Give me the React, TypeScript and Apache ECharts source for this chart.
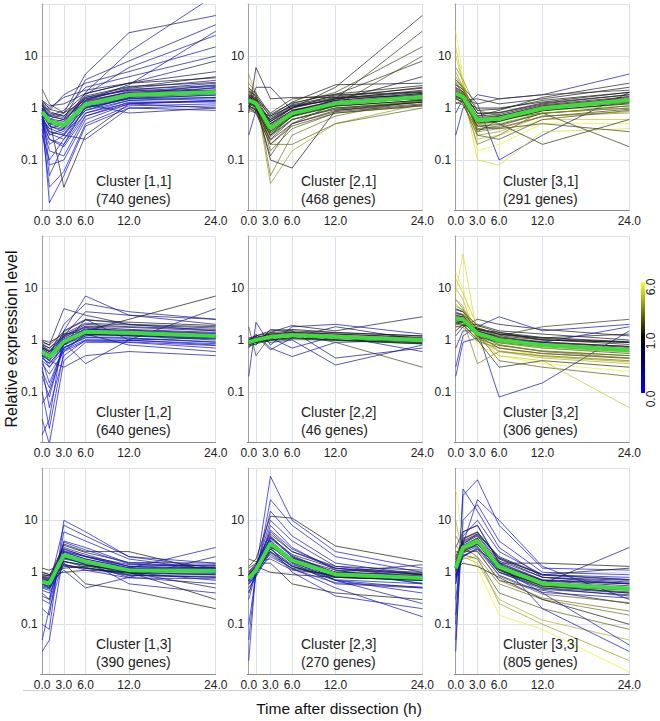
import React, { useEffect, useRef } from 'react';
import * as echarts from 'echarts';

// ---- data ----
const hours = [0, 1, 3, 6, 12, 24];
const xTickValues = [0, 3, 6, 12, 24];
const gridHours = [1, 3, 6, 12, 24];

const clusterNames = ['Cluster [1,1]', 'Cluster [2,1]', 'Cluster [3,1]', 'Cluster [1,2]', 'Cluster [2,2]', 'Cluster [3,2]', 'Cluster [1,3]', 'Cluster [2,3]', 'Cluster [3,3]'];
const geneCounts = [740, 468, 291, 640, 46, 306, 390, 270, 805];

const colorBarLabels = ['6.0', '1.0', '0.0'];

// Cluster [1,1]
const mean11 = [0.85, 0.56, 0.47, 1.18, 1.78, 2.03];
const lines11 = [
  [0.9, 0.5, 0.4, 1.1, 1.7, 1.9], [0.8, 0.6, 0.5, 1.3, 1.9, 2.2], [1.0, 0.45, 0.35, 1.0, 1.5, 1.6],
  [0.7, 0.35, 0.3, 0.9, 1.6, 2.5], [1.1, 0.7, 0.6, 1.5, 2.2, 3.0], [0.6, 0.25, 0.2, 0.8, 1.4, 1.5],
  [1.2, 0.8, 0.7, 1.6, 2.5, 4.0], [0.5, 0.15, 0.12, 0.7, 1.3, 1.3], [0.9, 0.08, 0.1, 0.6, 1.2, 1.4],
  [0.4, 0.03, 0.06, 0.5, 1.1, 1.2], [0.7, 0.015, 0.05, 0.45, 1.0, 1.1], [1.0, 0.6, 0.03, 0.3, 1.2, 1.0],
  [1.3, 1.0, 1.6, 2.2, 3.0, 8.0], [1.1, 0.9, 1.8, 3.0, 5.0, 15], [0.8, 0.5, 0.6, 3.5, 8.0, 40],
  [0.6, 0.4, 0.5, 2.0, 12, 150], [0.9, 0.6, 0.8, 4.5, 28, 60], [0.7, 0.3, 0.4, 1.8, 6.0, 25],
  [1.0, 0.7, 0.9, 2.5, 4.0, 10], [2.3, 1.2, 0.8, 1.4, 2.0, 2.2], [0.5, 0.2, 0.3, 0.25, 1.0, 0.9],
  [0.8, 0.55, 0.45, 1.2, 0.8, 1.0], [0.6, 0.05, 0.2, 1.1, 1.8, 2.8], [1.4, 1.1, 1.2, 1.9, 3.0, 5.0],
  [0.3, 0.1, 0.25, 1.0, 1.5, 1.8], [1.0, 0.5, 0.5, 1.4, 2.8, 30],
  [1.1, 0.75, 0.65, 1.5, 2.3, 2.7], [0.65, 0.4, 0.32, 0.9, 1.4, 1.6], [1.25, 0.85, 0.7, 1.7, 2.6, 3.1],
  [0.55, 0.32, 0.25, 0.8, 1.25, 1.4], [0.95, 0.7, 0.6, 1.35, 2.0, 2.4], [0.75, 0.45, 0.38, 1.0, 1.55, 1.75],
  [1.4, 0.95, 0.8, 1.9, 3.0, 3.8], [0.5, 0.25, 0.18, 0.7, 1.2, 1.35], [1.0, 0.6, 0.42, 1.4, 2.4, 3.4],
  [0.7, 0.5, 0.5, 1.05, 1.6, 1.9], [0.6, 0.35, 0.3, 1.25, 2.1, 2.6], [1.15, 0.62, 0.55, 1.6, 2.2, 2.2],
];
const tones11 = [0.4, 0.5, 0.3, 0.3, 0.6, 0.2, 0.7, 0.2, 0.1, 0.1, 0.05, 1.1, 0.5, 0.4, 0.5, 0.4, 0.6, 0.3, 0.4, 1.8, 0.3, 0.5, 0.15, 0.6, 0.1, 0.4,
  0.4, 0.3, 0.8, 0.2, 0.6, 0.3, 1.0, 0.2, 0.5, 0.4, 0.3, 0.7];

// Cluster [2,1]
const mean21 = [1.42, 1.23, 0.41, 0.79, 1.23, 1.65];
const lines21 = [
  [1.3, 1.1, 0.4, 0.8, 1.2, 1.6], [1.5, 1.2, 0.5, 0.9, 1.3, 1.8], [1.1, 0.9, 0.3, 0.7, 1.1, 1.4],
  [1.7, 1.3, 0.6, 1.0, 1.5, 2.2], [1.2, 1.0, 0.25, 0.6, 1.0, 1.3], [2.0, 1.5, 0.7, 1.1, 1.6, 2.5],
  [1.0, 0.8, 0.2, 0.5, 0.9, 1.2], [2.5, 1.6, 0.15, 0.4, 0.8, 1.1], [3.0, 2.0, 0.05, 0.3, 0.7, 1.5],
  [4.5, 1.8, 0.035, 0.15, 0.5, 1.2], [1.4, 1.0, 0.45, 0.85, 1.4, 4.0], [1.6, 1.3, 0.55, 1.0, 1.8, 8.0],
  [1.2, 1.1, 0.6, 1.2, 2.0, 15], [1.8, 1.4, 0.35, 0.7, 1.5, 30], [1.3, 1.2, 0.5, 1.0, 2.5, 60],
  [0.3, 0.9, 0.6, 1.1, 1.4, 1.9], [0.8, 6.0, 1.5, 1.6, 1.6, 1.7], [1.0, 2.5, 2.5, 0.9, 1.3, 1.5],
  [1.5, 1.2, 0.1, 0.07, 0.9, 1.3], [1.9, 1.4, 0.2, 0.2, 0.5, 1.0], [1.1, 0.9, 0.7, 1.3, 2.8, 3.0],
  [2.2, 1.6, 0.8, 1.5, 1.8, 2.0], [1.4, 1.2, 0.3, 0.8, 1.1, 10], [1.6, 1.0, 0.12, 0.5, 1.2, 1.8],
  [1.8, 1.55, 0.55, 1.0, 1.55, 2.1], [1.1, 0.95, 0.3, 0.6, 0.95, 1.3], [2.1, 1.75, 0.65, 1.15, 1.7, 2.4],
  [1.0, 0.85, 0.24, 0.5, 0.85, 1.15], [1.6, 1.4, 0.48, 0.9, 1.4, 1.9], [1.25, 1.05, 0.33, 0.68, 1.08, 1.42],
  [2.4, 1.9, 0.75, 1.25, 1.85, 2.7], [0.9, 0.8, 0.2, 0.45, 0.8, 1.1], [1.5, 1.3, 0.36, 0.72, 1.15, 1.55],
  [1.3, 1.15, 0.55, 1.05, 1.5, 2.0], [2.0, 1.5, 0.28, 0.6, 1.0, 1.35], [1.7, 1.45, 0.45, 0.85, 1.3, 1.8],
];
const tones21 = [1.0, 1.0, 1.0, 1.1, 1.3, 1.0, 1.6, 2.5, 3.0, 4.0, 1.0, 1.5, 2.0, 1.8, 1.2, 0.3, 1.0, 0.9, 1.0, 2.8, 1.0, 1.4, 2.2, 2.0,
  1.0, 1.0, 1.0, 1.5, 1.0, 1.2, 1.0, 2.0, 1.0, 0.9, 2.5, 1.0];

// Cluster [3,1]
const mean31 = [1.92, 1.65, 0.59, 0.63, 0.99, 1.42];
const lines31 = [
  [2.0, 1.7, 0.6, 0.6, 1.0, 1.4], [1.8, 1.5, 0.5, 0.55, 0.9, 1.2], [2.5, 2.0, 0.8, 0.8, 1.2, 1.8],
  [3.0, 2.2, 0.4, 0.45, 0.8, 1.0], [5.0, 2.5, 0.3, 0.35, 0.7, 0.8], [10, 3.0, 0.25, 0.3, 0.6, 0.6],
  [30, 4.0, 0.15, 0.2, 0.5, 0.5], [1.5, 1.3, 1.0, 1.0, 1.3, 2.0], [1.2, 1.4, 1.5, 1.2, 1.5, 2.5],
  [0.3, 1.0, 1.8, 1.5, 1.8, 4.5], [0.8, 1.5, 1.2, 0.1, 0.3, 2.0], [4.0, 2.2, 0.1, 0.08, 0.35, 0.4],
  [2.2, 1.8, 0.7, 0.9, 1.6, 3.0], [1.7, 1.4, 0.45, 0.4, 0.5, 0.35], [2.8, 2.0, 0.35, 0.6, 0.8, 0.18],
  [6.0, 3.5, 0.9, 0.7, 1.1, 1.5], [1.9, 1.6, 0.55, 0.7, 1.0, 1.3], [2.3, 1.9, 0.65, 0.5, 0.2, 0.6],
  [15, 3.0, 0.5, 0.6, 0.9, 1.1], [1.6, 1.2, 0.3, 0.25, 0.6, 0.9], [3.5, 2.5, 1.2, 1.5, 1.8, 2.2],
  [2.0, 1.5, 0.2, 0.3, 0.9, 1.7],
  [2.4, 2.05, 0.78, 0.82, 1.25, 1.8], [1.5, 1.3, 0.45, 0.48, 0.78, 1.1], [2.8, 2.3, 0.9, 0.95, 1.4, 2.0],
  [1.3, 1.15, 0.38, 0.42, 0.68, 0.95], [2.1, 1.8, 0.66, 0.7, 1.1, 1.58], [1.7, 1.5, 0.52, 0.56, 0.88, 1.25],
  [3.2, 2.5, 0.55, 0.6, 0.95, 1.3], [1.6, 1.45, 0.7, 0.75, 1.15, 1.65], [2.5, 2.0, 0.35, 0.4, 0.7, 0.85],
  [1.9, 1.7, 0.62, 0.68, 1.05, 1.5], [4.0, 2.6, 0.48, 0.5, 0.8, 1.0],
];
const tones31 = [1.2, 1.0, 1.0, 2.5, 4.0, 5.0, 6.0, 1.0, 0.9, 0.3, 0.3, 5.5, 1.3, 2.0, 1.8, 3.5, 1.1, 1.5, 5.0, 2.2, 1.6, 3.0,
  1.0, 1.5, 1.0, 2.0, 1.1, 1.3, 2.8, 1.0, 3.5, 1.0, 4.0];

// Cluster [1,2]
const mean12 = [0.6, 0.48, 0.93, 1.44, 1.38, 1.19];
const lines12 = [
  [0.6, 0.5, 0.9, 1.4, 1.4, 1.2], [0.55, 0.45, 1.0, 1.6, 1.5, 1.3], [0.7, 0.6, 1.1, 1.8, 1.6, 1.4],
  [0.5, 0.3, 0.8, 1.2, 1.2, 1.0], [0.8, 0.7, 1.2, 2.0, 1.8, 1.6], [0.4, 0.15, 0.7, 1.1, 1.1, 0.9],
  [0.3, 0.05, 0.5, 1.0, 1.0, 0.8], [0.1, 0.02, 0.6, 1.3, 1.2, 1.1], [0.03, 0.01, 0.4, 0.9, 0.9, 0.7],
  [0.015, 0.03, 1.5, 2.5, 2.0, 1.5], [0.9, 0.8, 4.0, 3.0, 2.0, 1.8], [0.6, 0.5, 2.0, 5.0, 3.5, 2.5],
  [0.5, 0.4, 1.5, 7.0, 3.0, 2.0], [0.7, 0.6, 0.9, 0.35, 1.0, 1.1], [1.0, 0.9, 1.3, 1.5, 2.5, 7.0],
  [0.6, 0.4, 0.3, 0.5, 0.6, 0.5], [0.45, 0.35, 0.8, 2.5, 1.0, 4.0], [0.65, 0.55, 1.0, 1.3, 0.8, 0.6],
  [0.2, 0.08, 0.9, 1.7, 1.3, 1.2], [0.75, 0.6, 1.2, 3.5, 3.0, 2.5], [0.5, 0.45, 0.85, 1.4, 1.3, 1.15],
  [0.06, 0.1, 0.7, 1.2, 1.5, 1.3],
  [0.78, 0.63, 1.2, 1.85, 1.75, 1.5], [0.45, 0.36, 0.72, 1.12, 1.08, 0.92], [0.85, 0.7, 1.3, 2.1, 1.95, 1.7],
  [0.4, 0.3, 0.65, 1.0, 0.98, 0.85], [0.68, 0.55, 1.05, 1.6, 1.55, 1.35], [0.52, 0.4, 0.82, 1.28, 1.22, 1.05],
  [0.95, 0.8, 1.45, 2.4, 2.2, 1.9], [0.35, 0.22, 0.6, 0.95, 0.92, 0.78], [0.62, 0.5, 1.15, 1.75, 1.45, 1.25],
  [0.72, 0.6, 0.85, 1.3, 1.25, 1.1], [0.25, 0.12, 0.8, 1.5, 1.35, 1.15],
];
const tones12 = [0.3, 0.4, 0.6, 0.2, 0.8, 0.1, 0.1, 0.05, 0.05, 0.1, 0.7, 0.4, 0.3, 0.5, 1.0, 0.3, 0.3, 0.4, 0.15, 0.5, 0.8, 0.1,
  0.6, 0.3, 0.7, 0.2, 0.5, 0.4, 0.9, 0.2, 0.4, 0.8, 0.1];

// Cluster [2,2]
const mean22 = [0.9, 1.0, 1.15, 1.25, 1.15, 1.0];
const lines22 = [
  [0.9, 1.0, 1.2, 1.3, 1.2, 1.0], [0.85, 1.1, 1.3, 1.4, 1.3, 1.1], [1.0, 0.9, 1.1, 1.2, 1.1, 0.9],
  [0.8, 1.2, 1.5, 1.6, 1.4, 1.2], [0.95, 0.9, 1.0, 1.1, 1.0, 0.85], [0.2, 2.2, 0.8, 1.8, 2.0, 1.3],
  [1.8, 0.5, 1.2, 1.3, 0.9, 0.3], [0.9, 1.3, 0.7, 0.48, 0.9, 1.0], [1.1, 1.0, 1.4, 1.9, 1.5, 2.8],
  [0.7, 1.1, 0.9, 1.0, 0.33, 0.8], [0.9, 0.8, 1.6, 1.5, 0.45, 0.7], [1.0, 1.2, 0.65, 1.1, 1.8, 1.0],
  [0.9, 0.95, 1.25, 1.3, 1.2, 1.05], [0.75, 1.05, 1.1, 0.7, 1.2, 0.6],
  [1.0, 1.12, 1.3, 1.42, 1.3, 1.13], [0.8, 0.9, 1.02, 1.1, 1.02, 0.88], [1.08, 1.2, 1.38, 1.5, 1.38, 1.2],
  [0.75, 0.85, 0.98, 1.05, 0.98, 0.84], [0.92, 1.08, 1.25, 1.35, 1.22, 1.05], [0.85, 0.95, 1.08, 1.18, 1.08, 0.95],
];
const tones22 = [1.0, 1.0, 1.0, 1.0, 1.0, 0.3, 2.0, 0.4, 0.8, 0.4, 0.5, 0.6, 1.0, 0.4,
  1.0, 1.0, 1.0, 0.9, 1.0, 1.0];

// Cluster [3,2]
const mean32 = [2.6, 2.5, 1.34, 1.0, 0.8, 0.64];
const lines32 = [
  [2.5, 2.4, 1.3, 1.0, 0.8, 0.65], [3.0, 2.8, 1.5, 1.1, 0.9, 0.75], [2.0, 2.2, 1.2, 0.9, 0.75, 0.6],
  [4.0, 3.5, 1.6, 1.2, 1.0, 0.9], [6.0, 4.0, 1.4, 0.8, 0.6, 0.5], [10, 6.0, 1.0, 0.6, 0.45, 0.35],
  [20, 10, 0.8, 0.5, 0.35, 0.25], [8.0, 45, 1.2, 0.7, 0.5, 0.4], [1.5, 2.0, 2.0, 1.5, 1.3, 1.0],
  [1.2, 1.8, 2.5, 2.0, 1.6, 1.2], [0.3, 1.2, 1.8, 2.8, 1.5, 2.0], [0.7, 1.5, 1.5, 0.08, 0.15, 1.5],
  [3.5, 3.0, 1.3, 0.4, 0.3, 0.2], [5.0, 3.5, 1.1, 0.5, 0.4, 0.05], [2.8, 2.6, 1.4, 1.2, 1.8, 2.5],
  [2.2, 2.0, 1.0, 0.3, 0.4, 0.3], [2.6, 2.4, 0.35, 0.6, 0.5, 0.4], [1.8, 1.9, 1.7, 1.3, 1.1, 1.3],
  [3.2, 3.0, 1.2, 0.7, 0.55, 0.45], [2.4, 2.2, 1.6, 1.4, 1.0, 0.9], [15, 8.0, 1.8, 1.2, 0.8, 0.6],
  [0.2, 0.9, 1.1, 1.0, 0.9, 1.8],
  [3.3, 3.1, 1.7, 1.28, 1.02, 0.82], [2.0, 1.95, 1.05, 0.78, 0.62, 0.5], [3.8, 3.5, 1.9, 1.4, 1.12, 0.92],
  [1.8, 1.75, 0.95, 0.7, 0.55, 0.44], [2.9, 2.8, 1.5, 1.15, 0.92, 0.75], [2.3, 2.2, 1.18, 0.88, 0.7, 0.55],
  [4.5, 3.8, 1.2, 0.82, 0.6, 0.45], [2.1, 2.3, 1.6, 1.3, 1.08, 0.9], [2.7, 2.6, 1.1, 0.62, 0.48, 0.38],
  [2.5, 2.4, 1.45, 1.1, 0.88, 0.72], [6.0, 4.5, 1.3, 0.9, 0.7, 0.58],
];
const tones32 = [1.2, 1.0, 1.0, 1.1, 3.0, 4.5, 6.0, 5.5, 1.0, 0.9, 0.3, 0.4, 2.5, 5.0, 1.8, 1.5, 3.5, 1.0, 2.0, 1.0, 5.0, 0.2,
  1.2, 2.5, 1.0, 3.0, 1.0, 2.0, 3.5, 0.9, 4.0, 1.0, 4.5];

// Cluster [1,3]
const mean13 = [0.66, 0.61, 2.15, 1.6, 1.1, 1.07];
const lines13 = [
  [0.65, 0.6, 2.0, 1.6, 1.1, 1.0], [0.7, 0.65, 2.5, 1.8, 1.2, 1.1], [0.6, 0.55, 1.6, 1.4, 1.0, 0.9],
  [0.8, 0.75, 3.0, 2.2, 1.3, 1.2], [0.55, 0.5, 1.3, 1.2, 0.9, 0.8], [0.9, 0.85, 1.2, 1.3, 1.1, 1.2],
  [0.4, 0.3, 4.0, 3.0, 1.5, 1.3], [0.2, 0.15, 6.0, 4.0, 1.8, 1.1], [0.1, 0.08, 10, 6.0, 2.0, 1.5],
  [0.03, 0.05, 2.5, 2.0, 1.2, 1.0], [0.05, 0.2, 1.8, 1.5, 1.0, 0.7], [0.7, 0.6, 1.1, 0.5, 0.8, 0.6],
  [1.2, 1.1, 1.5, 0.6, 0.45, 0.2], [0.6, 0.5, 2.2, 1.7, 0.6, 0.4], [0.75, 0.7, 3.5, 2.5, 2.5, 1.0],
  [0.5, 0.45, 1.9, 1.5, 1.2, 3.0], [0.65, 0.55, 8.0, 5.0, 2.0, 1.2], [0.85, 0.8, 1.4, 1.2, 1.0, 0.5],
  [0.3, 0.25, 2.8, 2.0, 1.3, 1.1], [0.7, 0.7, 2.0, 1.4, 0.8, 2.0], [1.0, 0.9, 1.0, 1.1, 1.0, 0.3],
  [0.82, 0.77, 2.8, 2.05, 1.4, 1.35], [0.52, 0.48, 1.65, 1.25, 0.86, 0.84], [0.9, 0.85, 3.3, 2.4, 1.55, 1.5],
  [0.45, 0.4, 1.45, 1.1, 0.78, 0.75], [0.72, 0.68, 2.4, 1.8, 1.22, 1.18], [0.6, 0.55, 1.9, 1.42, 0.98, 0.95],
  [1.0, 0.9, 1.6, 1.35, 1.15, 1.25], [0.35, 0.3, 3.8, 2.7, 1.45, 1.2], [0.7, 0.64, 2.2, 1.5, 0.88, 0.8],
  [0.58, 0.52, 2.6, 2.0, 1.3, 1.4], [0.78, 0.72, 1.35, 1.2, 0.95, 0.9],
];
const tones13 = [0.3, 0.4, 0.3, 0.6, 0.2, 1.0, 0.2, 0.1, 0.05, 0.05, 0.1, 0.4, 1.0, 0.3, 1.0, 0.3, 0.4, 0.8, 0.2, 0.5, 1.0,
  0.5, 0.3, 0.7, 0.2, 0.4, 0.3, 1.0, 0.15, 0.6, 0.3, 0.9];

// Cluster [2,3]
const mean23 = [0.75, 1.1, 3.6, 1.7, 0.92, 0.78];
const lines23 = [
  [0.75, 1.1, 3.5, 1.7, 0.9, 0.8], [0.8, 1.2, 4.5, 2.0, 1.0, 0.85], [0.7, 1.0, 2.8, 1.4, 0.8, 0.7],
  [0.9, 1.3, 2.2, 1.2, 0.85, 0.75], [1.0, 1.4, 6.0, 2.5, 1.2, 0.9], [0.6, 0.9, 8.0, 3.0, 1.1, 0.6],
  [0.3, 1.0, 15, 5.0, 1.5, 0.9], [0.1, 0.9, 25, 8.0, 2.0, 1.0], [0.05, 1.1, 70, 10, 2.5, 1.2],
  [0.02, 1.2, 5.0, 2.0, 0.7, 0.4], [1.2, 1.5, 1.5, 0.6, 0.4, 0.3], [0.8, 1.2, 3.0, 1.0, 0.35, 0.2],
  [0.7, 1.0, 2.0, 1.2, 0.5, 0.14], [1.3, 1.8, 12, 11, 3.2, 1.6], [0.9, 1.3, 1.0, 0.9, 0.8, 0.7],
  [0.65, 1.1, 4.0, 1.8, 1.0, 1.4], [0.85, 1.2, 3.2, 1.5, 0.6, 0.5], [0.4, 1.0, 2.5, 1.3, 0.7, 0.25],
  [1.8, 1.6, 1.8, 1.1, 0.9, 0.8], [0.75, 1.1, 10, 4.0, 1.3, 0.9], [0.7, 1.0, 3.5, 1.6, 1.0, 0.9],
  [0.95, 1.35, 4.6, 2.2, 1.18, 1.0], [0.58, 0.88, 2.8, 1.32, 0.72, 0.6], [1.05, 1.45, 5.4, 2.5, 1.3, 1.1],
  [0.5, 0.82, 2.4, 1.15, 0.63, 0.52], [0.82, 1.2, 3.9, 1.85, 1.0, 0.85], [0.68, 1.0, 3.2, 1.52, 0.82, 0.7],
  [0.4, 1.05, 6.5, 2.8, 1.2, 0.8], [0.9, 1.25, 2.5, 1.3, 0.8, 0.72], [0.72, 1.1, 4.2, 1.6, 0.7, 0.5],
  [0.78, 1.15, 3.0, 1.9, 1.1, 0.95], [0.62, 1.0, 4.8, 2.1, 0.95, 0.62],
];
const tones23 = [0.3, 0.5, 0.4, 1.0, 0.8, 0.2, 0.1, 0.1, 0.1, 0.05, 1.0, 0.3, 0.2, 1.0, 1.0, 0.4, 0.6, 0.2, 1.5, 0.3, 1.0,
  0.5, 0.3, 0.8, 0.2, 1.0, 0.4, 0.1, 1.0, 0.3, 1.0, 0.2];

// Cluster [3,3]
const mean33 = [1.19, 3.0, 4.06, 1.28, 0.61, 0.49];
const lines33 = [
  [1.2, 3.0, 4.0, 1.3, 0.6, 0.5], [1.0, 2.5, 3.5, 1.1, 0.55, 0.45], [1.5, 3.5, 5.0, 1.5, 0.7, 0.6],
  [0.8, 2.0, 3.0, 1.0, 0.5, 0.4], [2.0, 4.5, 6.0, 1.8, 0.8, 0.7], [0.3, 5.0, 10, 2.5, 0.9, 0.8],
  [0.05, 10, 20, 4.0, 1.0, 0.9], [0.03, 30, 60, 8.0, 1.2, 1.1], [0.1, 40, 15, 3.0, 0.8, 0.6],
  [3.0, 6.0, 8.0, 1.5, 1.5, 1.3], [5.0, 3.0, 2.0, 0.6, 0.3, 0.15], [10, 2.0, 1.5, 0.3, 0.12, 0.05],
  [40, 4.0, 1.2, 0.15, 0.08, 0.012], [2.5, 2.2, 1.8, 0.4, 0.2, 0.08], [1.2, 1.5, 1.3, 0.8, 0.3, 0.1],
  [0.6, 3.5, 25, 10, 1.3, 0.3], [0.7, 2.8, 4.5, 1.2, 0.4, 0.04], [1.4, 3.2, 3.8, 1.0, 0.6, 3.0],
  [1.8, 2.5, 2.5, 0.7, 0.45, 0.25], [0.9, 2.0, 2.8, 1.4, 0.7, 0.6], [1.1, 4.0, 5.5, 2.0, 0.9, 1.2],
  [3.5, 1.8, 2.0, 0.25, 0.1, 0.02], [0.15, 6.0, 8.0, 1.6, 0.2, 0.03], [1.3, 3.0, 4.2, 1.1, 0.5, 0.35],
  [1.55, 3.8, 5.2, 1.65, 0.8, 0.65], [0.9, 2.35, 3.15, 1.0, 0.47, 0.37], [1.75, 4.3, 5.9, 1.85, 0.9, 0.73],
  [0.78, 2.1, 2.8, 0.88, 0.41, 0.32], [1.3, 3.3, 4.5, 1.42, 0.68, 0.55], [1.05, 2.65, 3.6, 1.12, 0.53, 0.42],
  [0.6, 3.5, 5.5, 1.9, 0.88, 0.72], [2.0, 2.8, 3.2, 0.85, 0.38, 0.26], [1.2, 3.1, 4.2, 1.3, 0.62, 0.5],
  [1.4, 3.2, 4.6, 1.15, 0.55, 0.4], [2.5, 2.5, 2.6, 0.7, 0.32, 0.18], [0.85, 2.5, 3.4, 1.55, 0.72, 0.62],
];
const tones33 = [0.4, 0.3, 1.0, 0.2, 1.0, 0.1, 0.05, 0.05, 0.3, 1.0, 3.0, 4.5, 6.0, 2.5, 1.0, 0.2, 0.3, 0.5, 1.2, 0.6, 1.0, 4.0, 0.2, 0.9,
  0.5, 0.3, 1.0, 0.2, 0.9, 1.6, 0.2, 2.5, 0.4, 1.0, 3.0, 0.3];

// ---- layout ----
const colLefts = [40.7, 247.3, 454.3];
const rowTops = [4, 236, 468.3];
const plotW = 175;
const plotH = 205.85;
const textX = [96, 301, 503];
const textY1 = [181, 412, 644];
const textY2 = [199, 430, 662];
const FONT = '"Liberation Sans", Arial, Helvetica, sans-serif';

function toneColor(c: number): string {
  if (c <= 1) {
    const b = Math.round(225 * (1 - c) + 25 * c);
    const rg = Math.round(20 * (1 - c) + 25 * c);
    return `rgb(${rg},${rg},${b})`;
  }
  const t = Math.min((c - 1) / 5, 1);
  const v = Math.round(25 + 215 * t);
  return `rgb(${v},${v},${Math.round(25 * (1 - t) + 40 * t)})`;
}

const panelLines = [lines11, lines21, lines31, lines12, lines22, lines32, lines13, lines23, lines33];
const panelTones = [tones11, tones21, tones31, tones12, tones22, tones32, tones13, tones23, tones33];
const panelMeans = [mean11, mean21, mean31, mean12, mean22, mean32, mean13, mean23, mean33];

function yFormatter(v: number): string {
  const l = Math.log10(v);
  const r = Math.round(l);
  if (Math.abs(l - r) > 1e-6) return '';
  if (r === 1) return '10';
  if (r === 0) return '1';
  if (r === -1) return '0.1';
  return '';
}

function buildOption() {
  const grid: any[] = [];
  const xAxis: any[] = [];
  const yAxis: any[] = [];
  const series: any[] = [];
  const graphic: any[] = [];
  for (let r = 0; r < 3; r++) {
    for (let c = 0; c < 3; c++) {
      const i = r * 3 + c;
      grid.push({ left: colLefts[c], top: rowTops[r], width: plotW, height: plotH });
      xAxis.push({
        type: 'value', gridIndex: i, min: -0.2, max: 24,
        axisLine: { show: true, lineStyle: { color: '#8c8c8c', width: 1 } },
        axisTick: { show: false },
        splitLine: { show: false },
        axisLabel: {
          customValues: xTickValues,
          formatter: (v: number) => v.toFixed(1),
          fontSize: 12, color: '#222', fontFamily: FONT, margin: 5,
        },
      });
      yAxis.push({
        type: 'log', logBase: 10, gridIndex: i, min: 0.011, max: 100,
        axisLine: { show: true, lineStyle: { color: '#a0a0a0', width: 1 } },
        axisTick: { show: false },
        splitLine: { show: true, lineStyle: { color: '#dbe2ea', width: 1 } },
        axisLabel: { formatter: yFormatter, fontSize: 12, color: '#222', fontFamily: FONT, margin: 3 },
      });
      // vertical grid lines (drawn beneath the gene lines)
      series.push({
        type: 'line', xAxisIndex: i, yAxisIndex: i, silent: true, z: 0,
        data: hours.map((h, k) => [h, panelMeans[i][k]]),
        symbol: 'none', lineStyle: { opacity: 0 },
        markLine: {
          z: 0,
          silent: true, symbol: 'none', label: { show: false },
          lineStyle: { color: '#dbe2ea', width: 1, type: 'solid' },
          data: gridHours.map((h) => ({ xAxis: h })),
        },
      });
      const lines = panelLines[i];
      const tones = panelTones[i];
      lines.forEach((vals, j) => {
        series.push({
          type: 'line', xAxisIndex: i, yAxisIndex: i, silent: true, z: 2,
          data: hours.map((h, k) => [h, vals[k]]),
          symbol: 'none', showSymbol: false,
          lineStyle: { color: toneColor(tones[j]), width: 0.9, opacity: 0.8 },
        });
      });
      series.push({
        type: 'line', xAxisIndex: i, yAxisIndex: i, silent: true, z: 3,
        data: hours.map((h, k) => [h, panelMeans[i][k]]),
        symbol: 'none', showSymbol: false,
        lineStyle: { color: '#3ddc3a', width: 4 },
      });
      graphic.push({
        type: 'text', x: textX[c], y: textY1[r], z: 10,
        style: { text: clusterNames[i], font: `14px ${FONT}`, fill: '#222', textAlign: 'left', textVerticalAlign: 'middle' },
      });
      graphic.push({
        type: 'text', x: textX[c], y: textY2[r], z: 10,
        style: { text: `(${geneCounts[i]} genes)`, font: `14px ${FONT}`, fill: '#222', textAlign: 'left', textVerticalAlign: 'middle' },
      });
    }
  }
  // axis titles
  graphic.push({
    type: 'text', x: 11, y: 339, rotation: Math.PI / 2,
    style: { text: 'Relative expression level', font: `16px ${FONT}`, fill: '#111', textAlign: 'center', textVerticalAlign: 'middle' },
  });
  graphic.push({
    type: 'text', x: 339, y: 708,
    style: { text: 'Time after dissection (h)', font: `15.5px ${FONT}`, fill: '#111', textAlign: 'center', textVerticalAlign: 'middle' },
  });
  // frame line under the axes
  graphic.push({
    type: 'line', shape: { x1: 23, y1: 690.5, x2: 638, y2: 690.5 },
    style: { stroke: '#d0d0d0', lineWidth: 1 },
  });
  // colour bar
  graphic.push({
    type: 'rect', shape: { x: 641, y: 282, width: 4, height: 111 },
    style: {
      fill: {
        type: 'linear', x: 0, y: 0, x2: 0, y2: 1,
        colorStops: [
          { offset: 0, color: '#ffff20' },
          { offset: 0.5, color: '#000000' },
          { offset: 1, color: '#0000ff' },
        ],
      },
    },
  });
  const barLabelY = [287, 341, 399];
  colorBarLabels.forEach((t, k) => {
    graphic.push({
      type: 'text', x: 651, y: barLabelY[k], rotation: Math.PI / 2,
      style: { text: t, font: `12px ${FONT}`, fill: '#222', textAlign: 'center', textVerticalAlign: 'middle' },
    });
  });
  return { animation: false, backgroundColor: '#ffffff', grid, xAxis, yAxis, series, graphic };
}

export default function App() {
  const ref = useRef<HTMLDivElement>(null);
  useEffect(() => {
    if (!ref.current) return;
    const chart = echarts.init(ref.current, undefined, { renderer: 'svg' });
    chart.setOption(buildOption() as any);
    return () => chart.dispose();
  }, []);
  return <div ref={ref} style={{ position: 'absolute', left: 0, top: 0, width: 660, height: 721 }} />;
}
